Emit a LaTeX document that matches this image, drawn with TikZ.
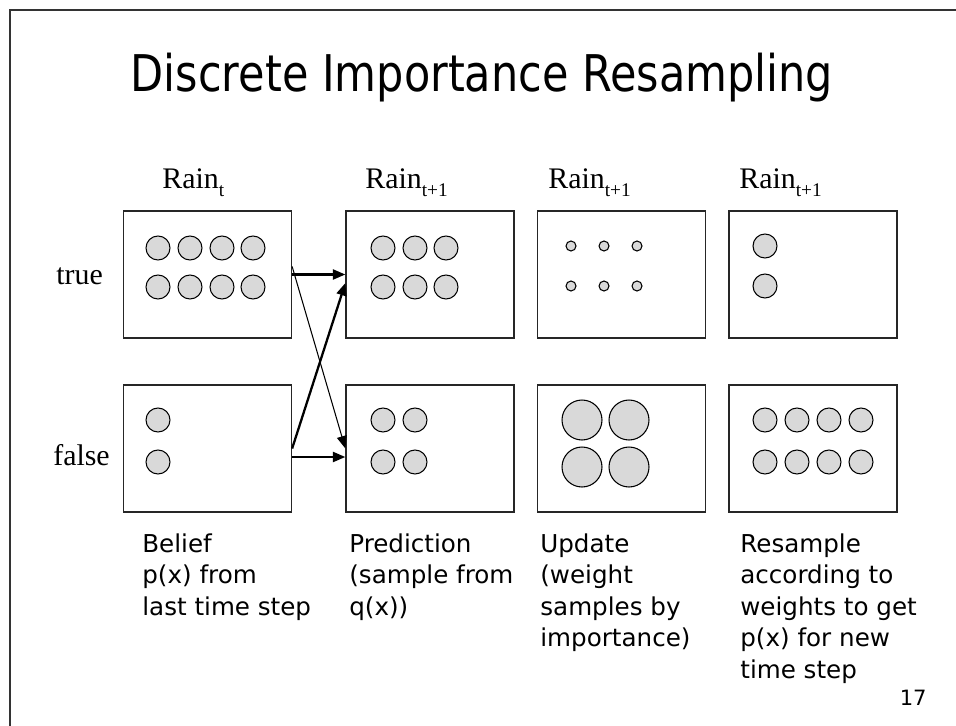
\documentclass[tikz,border=0pt]{standalone}
\usepackage{fontspec}
\setmainfont{Liberation Serif}
\newfontfamily\slidefont{DejaVu Sans}
\usepackage{tikz}
\usetikzlibrary{arrows.meta, positioning}

\newcommand{\lowsub}[1]{\raisebox{-4pt}{\fontsize{11}{11}\selectfont #1}}

\tikzset{
  box/.style={draw=black!85, line width=0.75pt, minimum width=3.36cm, minimum height=2.54cm, inner sep=0},
  dot/.style={draw=black, fill=gray!30, line width=0.6pt},
  fatarrow/.style={-{Triangle[length=2.5mm,width=2mm]}, line width=1.3pt},
  thinarrow/.style={-{Triangle[length=2.5mm,width=2mm]}, line width=0.6pt},
  rowlbl/.style={font=\fontsize{17}{20}\selectfont, inner sep=0},
  captxt/.style={font=\slidefont\fontsize{14}{18}\selectfont, align=left, anchor=north west, inner sep=0}
}

\begin{document}
\begin{tikzpicture}[x=0.02cm, y=-0.02cm]
  \useasboundingbox (0,0) rectangle (956,726);
  %% slide frame
  \draw[black!80, line width=0.6pt] (10,726) -- (10,10) -- (956,10);
  \node[anchor=base, inner sep=0, font=\slidefont\fontsize{28.8}{34}\selectfont] (title) at (482,92)
    {\scalebox{0.85}[1]{Discrete Importance Resampling}};

  %% column heads
  \node[rowlbl, anchor=base west] (hbel) at (162,189) {Rain\lowsub{t}};
  \node[rowlbl, anchor=base west] (hpre) at (365,189) {Rain\lowsub{t+1}};
  \node[rowlbl, anchor=base west] (hupd) at (548,189) {Rain\lowsub{t+1}};
  \node[rowlbl, anchor=base west] (hres) at (739,189) {Rain\lowsub{t+1}};
  %% row heads
  \node[rowlbl, anchor=west] (ltrue) at (56,276) {true};
  \node[rowlbl, anchor=west] (lfalse) at (53,455) {false};

  %% boxes
  \node[box] (belT) at (207.5,274.5) {};
  \node[box] (belF) at (207.5,448.5) {};
  \node[box] (preT) at (430,274.5) {};
  \node[box] (preF) at (430,448.5) {};
  \node[box] (updT) at (621.5,274.5) {};
  \node[box] (updF) at (621.5,448.5) {};
  \node[box] (resT) at (813,274.5) {};
  \node[box] (resF) at (813,448.5) {};

  %% samples
  \foreach \x in {158,190,222,253} \foreach \y in {248,287}
    \draw[dot] (\x,\y) circle[radius=0.24cm];
  \foreach \y in {420,462}
    \draw[dot] (158,\y) circle[radius=0.24cm];
  \foreach \x in {383,415,446} \foreach \y in {248,287}
    \draw[dot] (\x,\y) circle[radius=0.24cm];
  \foreach \x in {383,415} \foreach \y in {420,462}
    \draw[dot] (\x,\y) circle[radius=0.24cm];
  %% weighted samples
  \foreach \x in {571,604,637} \foreach \y in {246,286}
    \draw[dot] (\x,\y) circle[radius=0.1cm];
  \foreach \x in {582,629} \foreach \y in {420,467}
    \draw[dot] (\x,\y) circle[radius=0.4cm];
  %% resampled
  \foreach \y in {246,286}
    \draw[dot] (765,\y) circle[radius=0.24cm];
  \foreach \x in {765,797,829,861} \foreach \y in {420,462}
    \draw[dot] (\x,\y) circle[radius=0.24cm];

  %% transitions
  \draw[fatarrow] (belT.east) -- (preT.west);
  \draw[thinarrow] ([yshift=0.16cm]belT.east) -- (preF.west);
  \draw[fatarrow] (belF.east) -- ([yshift=-0.17cm]preT.west);
  \draw[fatarrow] ([yshift=-0.17cm]belF.east) -- ([yshift=-0.17cm]preF.west);

  %% captions
  \node[captxt] (cbel) at (142,533) {Belief\\p(x) from\\last time step};
  \node[captxt] (cpre) at (349,533) {Prediction\\(sample from\\q(x))};
  \node[captxt] (cupd) at (540,533) {Update\\(weight\\samples by\\importance)};
  \node[captxt] (cres) at (740,533) {Resample\\according to\\weights to get\\p(x) for new\\time step};
  \node[anchor=base east, inner sep=0, font=\slidefont\fontsize{12}{14}\selectfont] (pgno) at (927,705) {17};
\end{tikzpicture}
\end{document}
